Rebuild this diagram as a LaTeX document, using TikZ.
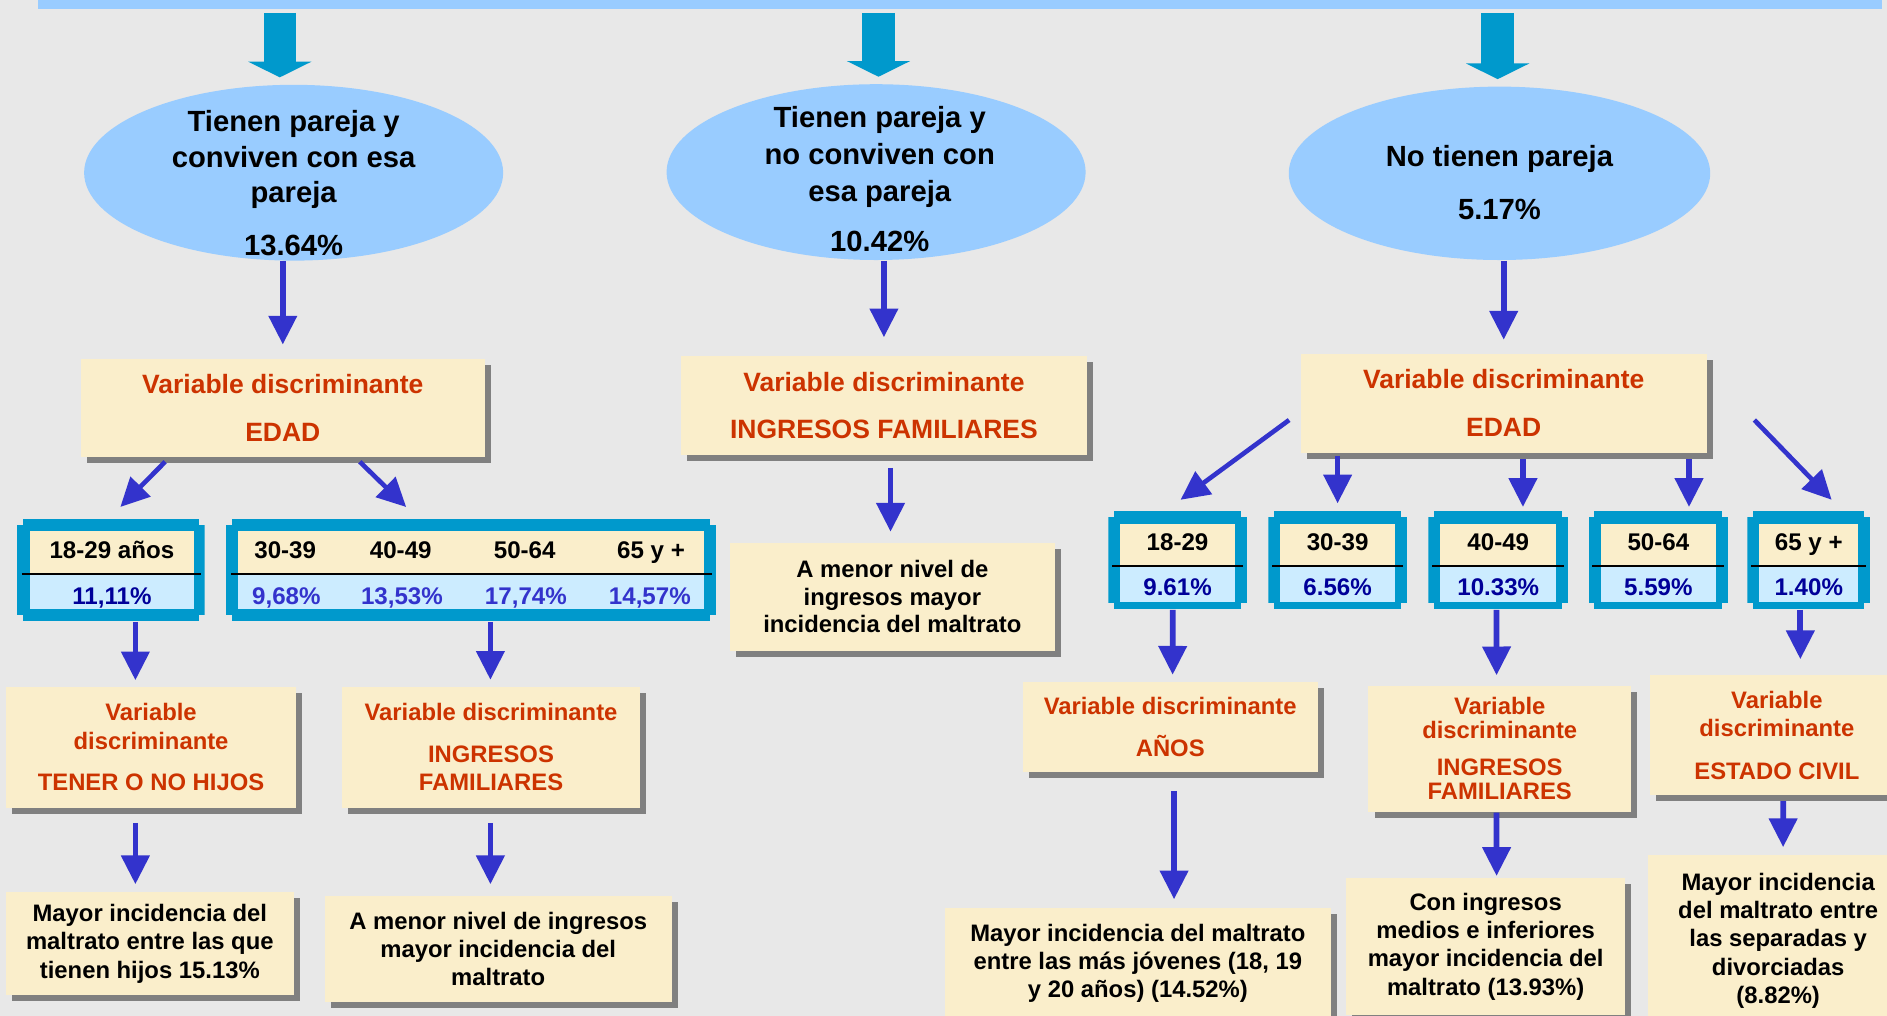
\documentclass[tikz,border=0pt]{standalone}
\usepackage{fontspec}
\setmainfont{Liberation Sans}
\usetikzlibrary{shapes.geometric,shadows,calc,arrows.meta}

\definecolor{paper}{HTML}{E8E8E8}
\definecolor{ovalblue}{HTML}{99CCFF}
\definecolor{feedcyan}{HTML}{0099CC}
\definecolor{flowblue}{HTML}{3333CC}
\definecolor{notefill}{HTML}{FAEECB}
\definecolor{shadowgrey}{HTML}{808080}
\definecolor{varred}{HTML}{CC3300}
\definecolor{cellblue}{HTML}{CCECFF}
\definecolor{navy}{HTML}{000099}

\tikzset{
  oval/.style={ellipse, fill=ovalblue, inner sep=0pt},
  ovaltext/.style={align=center, inner sep=0pt, font=\bfseries\fontsize{6.9}{8.3}\selectfont},
  note/.style={rectangle, fill=notefill, inner sep=0pt, align=center,
    drop shadow={shadow xshift=1.45pt, shadow yshift=-1.45pt, fill=shadowgrey, opacity=1}},
  varbig/.style={note, text=varred, font=\bfseries\fontsize{6.26}{11.3}\selectfont},
  varsmall/.style={note, text=varred, font=\bfseries\fontsize{5.63}{6.7}\selectfont},
  result/.style={note, font=\bfseries\fontsize{5.63}{6.7}\selectfont},
  tabframe/.style={rectangle, inner sep=0pt, fill=paper, path picture={
      \fill[feedcyan] ([xshift=1.4pt]path picture bounding box.north west) rectangle ([xshift=-1.4pt]path picture bounding box.south east);
      \fill[feedcyan] ([yshift=-1.4pt]path picture bounding box.north west) rectangle ([yshift=1.4pt]path picture bounding box.south east);}},
  headcell/.style={rectangle, fill=notefill, inner sep=0pt},
  pctcell/.style={rectangle, fill=cellblue, inner sep=0pt},
  celltext/.style={inner sep=0pt, text height=4.1pt, text depth=0pt, font=\bfseries\fontsize{5.7}{6.8}\selectfont},
  divider/.style={line width=0.5pt},
  feed/.style={draw=feedcyan, line width=7.7pt, -{Triangle[width=14.8pt,length=3.7pt]}},
  flow/.style={draw=flowblue, line width=1.35pt, -{Triangle[width=6.5pt,length=6.8pt]}},
  slant/.style={flow, line width=1.1pt},
}

\begin{document}
\begin{tikzpicture}[x=0.01cm,y=-0.01cm]
\useasboundingbox (0,0) rectangle (1568,844);
\clip (0,0) rectangle (1568,844);
\fill[paper] (0,0) rectangle (1568,844);

\node[rectangle, fill=ovalblue, inner sep=0pt, minimum width=15.31cm, minimum height=0.075cm] (bar) at (797.5,3.75) {};

\node[oval, minimum width=3.48cm, minimum height=1.46cm] (e1) at (244,143.5) {};
\node[oval, minimum width=3.48cm, minimum height=1.46cm] (e2) at (728,143) {};
\node[oval, minimum width=3.50cm, minimum height=1.44cm] (e3) at (1246,144) {};
\node[ovaltext] (e1txt) at (244,152.3) {Tienen pareja y\\conviven con esa\\pareja\\[4.3pt]13.64\%};
\node[ovaltext, font=\bfseries\fontsize{6.9}{8.7}\selectfont] (e2txt) at (731,148.6) {Tienen pareja y\\no conviven con\\esa pareja\\[3.1pt]10.42\%};
\node[ovaltext] (e3txt) at (1246,152) {No tienen pareja\\[4.2pt]5.17\%};

\draw[feed] ($(bar.south -| e1.north)+(-11.5,2.5)$) -- ($(e1.north)+(-11.5,-5.5)$);
\draw[feed] ($(bar.south -| e2.north)+(2,2.5)$) -- ($(e2.north)+(2,-5.5)$);
\draw[feed] ($(bar.south -| e3.north)+(-1.5,2.5)$) -- ($(e3.north)+(-1.5,-5.5)$);

\node[varbig, minimum width=3.36cm, minimum height=0.82cm] (box1) at (235,339) {Variable discriminante\\EDAD};
\node[varbig, minimum width=3.37cm, minimum height=0.82cm] (box2) at (734.5,337) {Variable discriminante\\INGRESOS FAMILIARES};
\node[varbig, minimum width=3.37cm, minimum height=0.82cm] (box3) at (1249.5,335) {Variable discriminante\\EDAD};

\draw[flow] (e1.south -| box1.north) -- ($(box1.north)+(0,-11)$);
\draw[flow] (e2.south -| box2.north) -- ($(box2.north)+(0,-15)$);
\draw[flow] (e3.south -| box3.north) -- ($(box3.north)+(0,-11)$);

% left tables
\node[tabframe, minimum width=1.56cm, minimum height=0.85cm] (tA) at (92,473.5) {};
\node[headcell, minimum width=1.36cm, minimum height=0.35cm] (tAh) at (93,458.5) {};
\node[pctcell, minimum width=1.36cm, minimum height=0.30cm] (tAp) at (93,491) {};
\draw[divider] ($(tA.west |- tAh.south)+(5,0)$) -- ($(tA.east |- tAh.south)+(-4,0)$);
\node[celltext] (tAage) at (93,457) {18-29 años};
\node[celltext, text=navy] (tApct) at (93,495) {11,11\%};

\node[tabframe, minimum width=4.07cm, minimum height=0.85cm] (tB) at (391.5,473.5) {};
\node[headcell, minimum width=3.87cm, minimum height=0.35cm] (tBh) at (391.5,458.5) {};
\node[pctcell, minimum width=3.87cm, minimum height=0.30cm] (tBp) at (391.5,491) {};
\draw[divider] ($(tB.west |- tBh.south)+(5,0)$) -- ($(tB.east |- tBh.south)+(-4,0)$);
\node[celltext] (tBage1) at (237,457) {30-39};
\node[celltext] (tBage2) at (333,457) {40-49};
\node[celltext] (tBage3) at (436,457) {50-64};
\node[celltext] (tBage4) at (541,457) {65 y +};
\node[celltext, text=flowblue] (tBpct1) at (238,495) {9,68\%};
\node[celltext, text=flowblue] (tBpct2) at (334,495) {13,53\%};
\node[celltext, text=flowblue] (tBpct3) at (437,495) {17,74\%};
\node[celltext, text=flowblue] (tBpct4) at (540,495) {14,57\%};

\draw[slant] ($(box1.south west)+(71,3)$) -- ($(tA.north)+(8,-9)$);
\draw[slant] ($(box1.south)+(64,3)$) -- ($(tB.north)+(-54,-9)$);

\node[varsmall, minimum width=2.41cm, minimum height=1.00cm] (hijos) at (125.5,621) {Variable\\discriminante\\[3.1pt]TENER O NO HIJOS};
\node[varsmall, minimum width=2.48cm, minimum height=1.00cm] (ingL) at (408,621) {Variable discriminante\\[3.1pt]INGRESOS\\FAMILIARES};
\node[result, minimum width=2.39cm, minimum height=0.86cm] (mayorL) at (124.5,784) {Mayor incidencia del\\maltrato entre las que\\tienen hijos 15.13\%};
\node[result, minimum width=2.88cm, minimum height=0.88cm] (menorL) at (414,788.5) {A menor nivel de ingresos\\mayor incidencia del\\maltrato};

\draw[flow] ($(tA.south)+(20.5,0)$) -- ($(hijos.north)+(-13,-5)$);
\draw[flow] ($(tB.south)+(16,0)$) -- ($(ingL.north)+(-0.5,-5.4)$);
\draw[flow] ($(hijos.south)+(-13,12)$) -- ($(mayorL.north)+(-12,-5.5)$);
\draw[flow] ($(ingL.south)+(-0.5,12)$) -- ($(menorL.north)+(-6.5,-9)$);

% middle
\node[result, minimum width=2.70cm, minimum height=0.895cm, font=\bfseries\fontsize{5.63}{6.5}\selectfont] (menorM) at (741.5,495.8) {A menor nivel de\\ingresos mayor\\incidencia del maltrato};
\draw[flow] ($(box2.south)+(5.5,10)$) -- ($(menorM.north)+(-1.5,-8.5)$);

% right tables
\node[tabframe, minimum width=1.15cm, minimum height=0.81cm] (t1) at (978.5,465.5) {};
\node[headcell, minimum width=0.95cm, minimum height=0.345cm] (t1h) at (978.5,452.25) {};
\node[pctcell, minimum width=0.95cm, minimum height=0.305cm] (t1p) at (978.5,484.75) {};
\draw[divider] ($(t1.west |- t1h.south)+(4,0)$) -- ($(t1.east |- t1h.south)+(-4,0)$);
\node[celltext] (t1age) at (978.5,450) {18-29};
\node[celltext, text=navy] (t1pct) at (978.5,488) {9.61\%};

\node[tabframe, minimum width=1.15cm, minimum height=0.81cm] (t2) at (1111.5,465.5) {};
\node[headcell, minimum width=0.95cm, minimum height=0.345cm] (t2h) at (1111.5,452.25) {};
\node[pctcell, minimum width=0.95cm, minimum height=0.305cm] (t2p) at (1111.5,484.75) {};
\draw[divider] ($(t2.west |- t2h.south)+(4,0)$) -- ($(t2.east |- t2h.south)+(-4,0)$);
\node[celltext] (t2age) at (1111.5,450) {30-39};
\node[celltext, text=navy] (t2pct) at (1111.5,488) {6.56\%};

\node[tabframe, minimum width=1.16cm, minimum height=0.81cm] (t3) at (1245,465.5) {};
\node[headcell, minimum width=0.96cm, minimum height=0.345cm] (t3h) at (1245,452.25) {};
\node[pctcell, minimum width=0.96cm, minimum height=0.305cm] (t3p) at (1245,484.75) {};
\draw[divider] ($(t3.west |- t3h.south)+(4,0)$) -- ($(t3.east |- t3h.south)+(-4,0)$);
\node[celltext] (t3age) at (1245,450) {40-49};
\node[celltext, text=navy] (t3pct) at (1245,488) {10.33\%};

\node[tabframe, minimum width=1.16cm, minimum height=0.81cm] (t4) at (1378,465.5) {};
\node[headcell, minimum width=0.96cm, minimum height=0.345cm] (t4h) at (1378,452.25) {};
\node[pctcell, minimum width=0.96cm, minimum height=0.305cm] (t4p) at (1378,484.75) {};
\draw[divider] ($(t4.west |- t4h.south)+(4,0)$) -- ($(t4.east |- t4h.south)+(-4,0)$);
\node[celltext] (t4age) at (1378,450) {50-64};
\node[celltext, text=navy] (t4pct) at (1378,488) {5.59\%};

\node[tabframe, minimum width=1.02cm, minimum height=0.81cm] (t5) at (1503,465.5) {};
\node[headcell, minimum width=0.82cm, minimum height=0.345cm] (t5h) at (1503,452.25) {};
\node[pctcell, minimum width=0.82cm, minimum height=0.305cm] (t5p) at (1503,484.75) {};
\draw[divider] ($(t5.west |- t5h.south)+(4,0)$) -- ($(t5.east |- t5h.south)+(-4,0)$);
\node[celltext] (t5age) at (1503,450) {65 y +};
\node[celltext, text=navy] (t5pct) at (1503,488) {1.40\%};

\draw[slant] ($(box3.west)+(-9,14)$) -- ($(t1.north)+(2.5,-9)$);
\draw[flow] ($(box3.south -| t2.north)+(0,2)$) -- ($(t2.north)+(0,-6)$);
\draw[flow] ($(box3.south -| t3.north)+(20.5,5)$) -- ($(t3.north)+(20.5,-3)$);
\draw[flow] ($(box3.south -| t4.north)+(25.5,5)$) -- ($(t4.north)+(25.5,-3)$);
\draw[slant] ($(box3.east)+(39,14)$) -- ($(t5.north)+(19,-9)$);

\node[varsmall, minimum width=2.45cm, minimum height=0.75cm] (anos) at (972.4,603.9) {Variable discriminante\\[3.15pt]AÑOS};
\node[varsmall, minimum width=2.18cm, minimum height=1.047cm, font=\bfseries\fontsize{5.63}{5.6}\selectfont] (ingR) at (1246.2,622.2) {Variable\\discriminante\\[3.2pt]INGRESOS\\FAMILIARES};
\node[varsmall, minimum width=2.11cm, minimum height=0.996cm] (civil) at (1476.5,610.8) {Variable\\discriminante\\[3.4pt]ESTADO CIVIL};

\draw[flow] ($(t1.south)+(-4,0)$) -- ($(anos.north)+(2,-5)$);
\draw[flow] ($(t3.south)+(-1.5,0)$) -- ($(ingR.north)+(-2.6,-8)$);
\draw[flow] ($(t5.south)+(-7,0)$) -- ($(civil.north)+(19.5,-12.5)$);

\node[result, minimum width=3.21cm, minimum height=0.92cm] (jov) at (945.5,800.5) {Mayor incidencia del maltrato\\entre las más jóvenes (18, 19\\y 20 años) (14.52\%)};
\node[result, minimum width=2.318cm, minimum height=1.138cm] (cones) at (1234.5,786.5) {Con ingresos\\medios e inferiores\\mayor incidencia del\\maltrato (13.93\%)};
\node[result, minimum width=2.162cm, minimum height=1.422cm] (sep) at (1477.6,781.6) {Mayor incidencia\\del maltrato entre\\las separadas y\\divorciadas\\(8.82\%)};

\draw[flow] ($(anos.south)+(3.2,15)$) -- ($(jov.north)+(30.1,-6.5)$);
\draw[flow] ($(ingR.south)+(-2.6,0)$) -- ($(cones.north)+(9.1,-1)$);
\draw[flow] ($(civil.south)+(5.2,4.4)$) -- ($(sep.north)+(4.1,-5.8)$);
\end{tikzpicture}
\end{document}
